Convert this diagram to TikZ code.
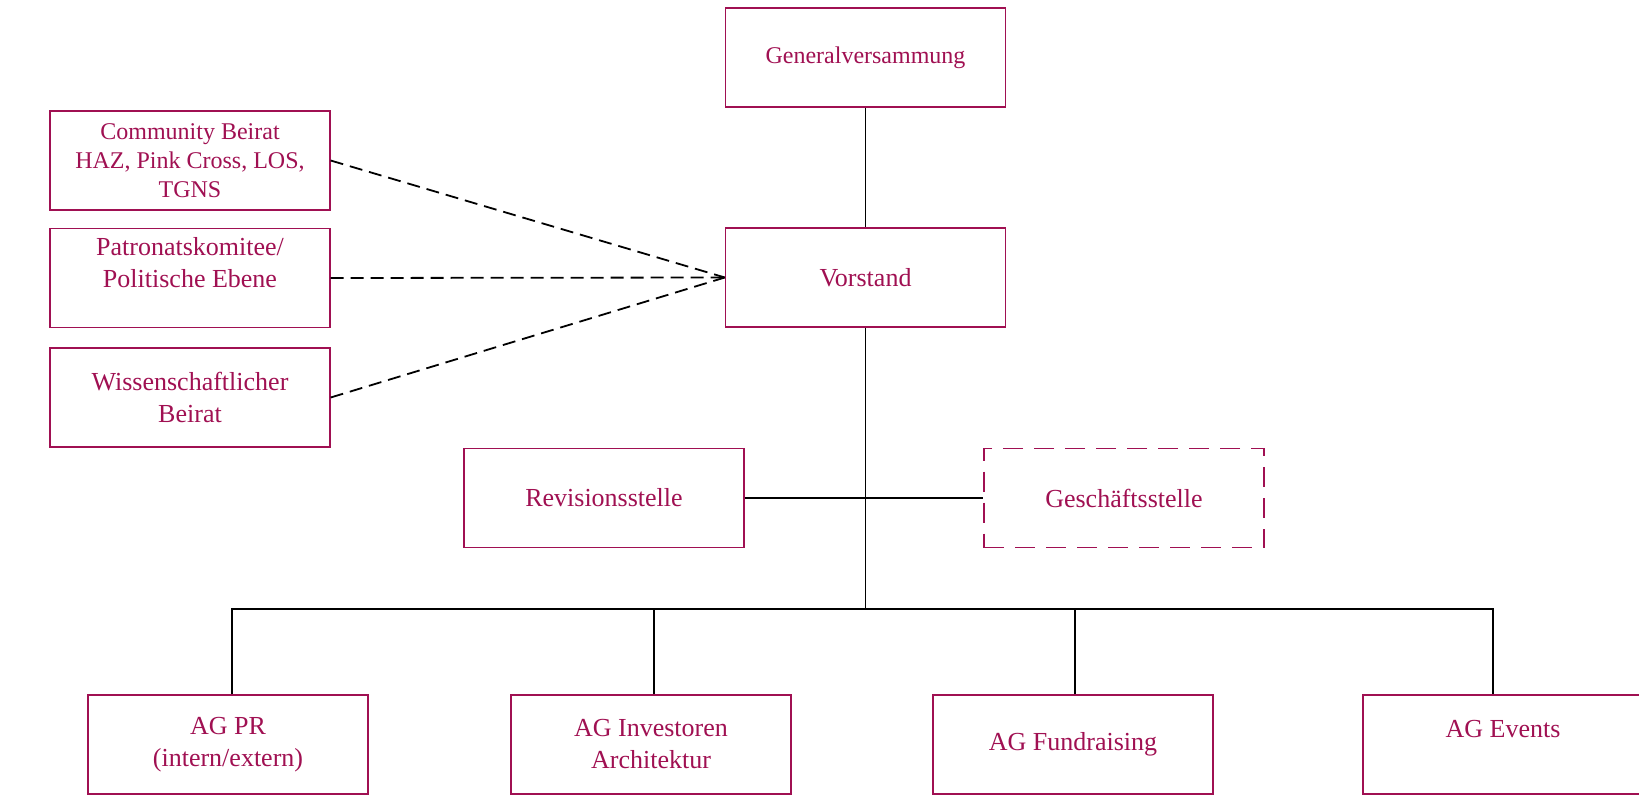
\documentclass[tikz,border=0pt]{standalone}
\usepackage{fontspec}
\setmainfont{Liberation Serif}
\definecolor{berry}{RGB}{160,16,82}

\begin{document}
\begin{tikzpicture}[x=1pt,y=-1pt,
    unit/.style={draw=berry,line width=1.3pt,text=berry,minimum width=280pt,
      minimum height=99pt,inner sep=0pt,align=center,
      font=\fontsize{26}{32}\selectfont},
    small/.style={font=\fontsize{24}{29}\selectfont},
    plan/.style={unit,line width=1.6pt,dash pattern=on 20pt off 11pt},
    link/.style={line width=1.8pt},
    tie/.style={line width=1.8pt,dash pattern=on 13pt off 7pt}]
  \useasboundingbox (0,0) rectangle (1639,795);
  % top of the chart
  \node[unit,small] (gv) at (865.5,57.5) {Generalversammung};
  \node[unit] (vs) at (865.5,277.5) {Vorstand};
  % advisory boards
  \node[unit,small] (cb) at (190,160.5) {Community Beirat\\HAZ, Pink Cross, LOS,\\TGNS};
  \node[unit] (pk) at (190,278) {Patronatskomitee/\\Politische Ebene\\~};
  \node[unit] (wb) at (190,397.5) {Wissenschaftlicher\\Beirat};
  % staff units
  \node[unit] (rev) at (604,498) {Revisionsstelle};
  \node[plan] (gs) at (1124,498) {Geschäftsstelle};
  % working groups
  \node[unit] (pr) at (228,744.5) {AG PR\\(intern/extern)};
  \node[unit] (inv) at (651,744.5) {AG Investoren\\Architektur};
  \node[unit] (fr) at (1073,744.5) {AG Fundraising};
  \node[unit] (ev) at (1503,744.5) {AG Events\\~};
  \coordinate (bus) at (865.5,609);
  \coordinate (evtop) at ([xshift=-10pt]ev.north);
  \draw[link] (gv) -- (vs);
  \draw[link] (vs) -- (bus);
  \draw[link] (rev) -- (gs);
  \draw[link] ([xshift=4pt]pr.north) |- (bus) -| (evtop);
  \draw[link] ([xshift=3pt]inv.north) -- ([xshift=3pt]inv.north |- bus);
  \draw[link] ([xshift=2pt]fr.north) -- ([xshift=2pt]fr.north |- bus);
  \draw[tie] (cb.east) -- (vs.west);
  \draw[tie] (pk.east) -- (vs.west);
  \draw[tie] (wb.east) -- (vs.west);
\end{tikzpicture}
\end{document}
